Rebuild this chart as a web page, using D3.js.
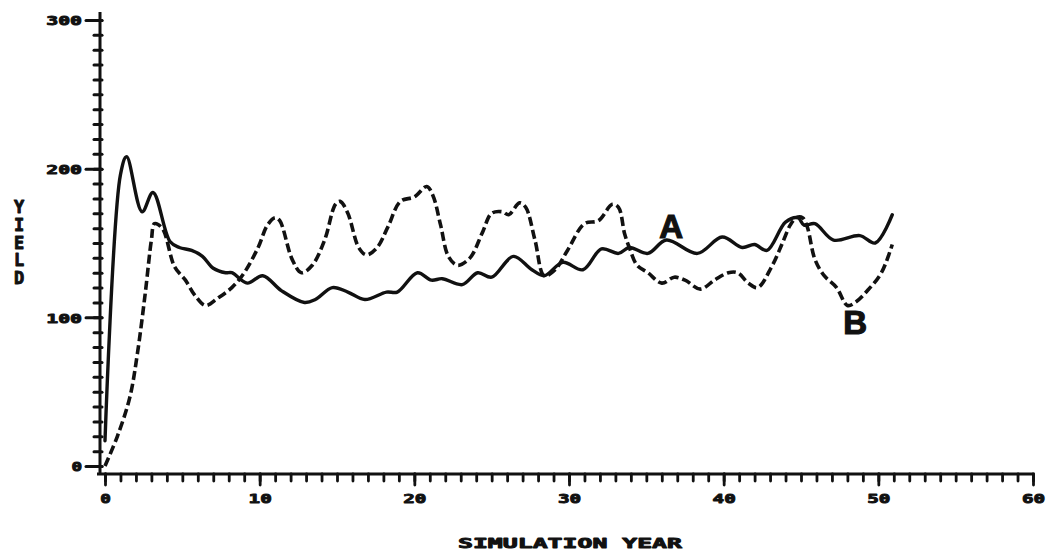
<!DOCTYPE html>
<html>
<head>
<meta charset="utf-8">
<script src="https://cdn.jsdelivr.net/npm/d3@7"></script>
<style>
  body { margin: 0; background: #fff; }
  svg { display: block; }
  .plot-font { font-family: "DejaVu Sans Mono", "Liberation Mono", monospace; font-weight: bold; }
  .stacked { writing-mode: vertical-lr; text-orientation: upright; }
</style>
</head>
<body>
<svg id="chart" width="1048" height="552"></svg>
<script>
// Simulated yield, run A (solid line)
const yearsA = [0.0, 1.0, 1.4, 2.4, 3.1, 4.2, 4.8, 5.6, 6.3, 7.0, 7.8, 8.2, 9.2, 10.2, 11.4, 12.9, 13.6, 14.7, 15.7, 16.8,
                18.2, 18.9, 20.2, 21.1, 21.8, 23.1, 24.1, 25.0, 26.4, 27.6, 28.4, 29.6, 30.9, 32.1, 33.2, 33.9, 35.1, 36.3,
                38.3, 39.9, 41.2, 42.0, 42.8, 44.0, 44.8, 45.2, 45.9, 47.1, 48.8, 49.8, 50.9];
const yieldA = [17, 196, 208, 171, 184, 151, 147, 145, 141, 133, 130, 130, 123, 128, 118, 110, 112, 120, 117, 112,
                117, 117, 130, 125, 126, 122, 130, 127, 141, 132, 128, 137, 132, 146, 143, 147, 143, 152,
                143, 154, 147, 149, 145, 164, 167, 162, 163, 152, 155, 150, 169];

// Simulated yield, run B (dashed line)
const yearsB = [0.0, 0.8, 1.6, 2.1, 2.6, 3.0, 3.2, 3.7, 4.5, 5.2, 5.8, 6.5, 7.3, 8.2, 9.0, 9.9, 10.5, 11.0, 11.3, 12.1,
                12.7, 13.4, 14.2, 14.9, 15.2, 15.7, 16.4, 16.9, 17.6, 18.3, 19.1, 20.0, 20.8, 21.2, 21.7, 22.2, 22.8,
                23.6, 24.4, 25.0, 25.7, 26.1, 26.8, 27.2, 27.8, 28.4, 29.1, 29.9, 31.0, 31.9, 32.8, 33.2, 33.6, 33.9,
                34.4, 35.1, 36.0, 36.8, 37.5, 38.5, 39.4, 40.3, 40.9, 41.6, 42.2, 43.1, 43.8, 44.3, 44.7, 45.1, 45.4,
                45.9, 46.5, 47.3, 48.0, 48.5, 49.3, 50.2, 50.9];
const yieldB = [0, 20, 46, 76, 116, 152, 163, 160, 134, 125, 115, 108, 113, 120, 130, 147, 162, 167, 165, 139,
                130, 135, 152, 176, 178, 170, 147, 142, 147, 161, 178, 181, 188, 182, 162, 141, 135,
                140, 157, 170, 171, 169, 177, 174, 152, 128, 132, 145, 163, 165, 176, 174, 156, 147,
                135, 130, 123, 127, 125, 119, 125, 130, 130, 123, 120, 134, 150, 162, 167, 167, 161,
                139, 128, 120, 108, 110, 118, 130, 149];

const xTicks = [0, 10, 20, 30, 40, 50, 60];
const xTickLabels = ["0", "10", "20", "30", "40", "50", "60"];
const yTicks = [0, 100, 200, 300];
const yTickLabels = ["0", "100", "200", "300"];
const xTitle = "SIMULATION YEAR";
const yTitle = "YIELD";
const seriesLabels = ["A", "B"];

const svg = d3.select("#chart");
const ink = "#111";

const x = d3.scaleLinear().domain([0, 60]).range([105, 1033]);
const y = d3.scaleLinear().domain([0, 300]).range([466, 20]);
const axisY = 474;   // x axis sits a little below the zero line
const axisX = 100;   // y axis sits a little left of year zero

// heavy plotter-style lettering: glyph fill plus a thin outline
function penText(sel) {
  sel.attr("fill", ink).attr("stroke", ink).attr("stroke-width", 0.9).attr("stroke-linejoin", "round");
}

// ---- y axis ----
const gy = svg.append("g").attr("transform", `translate(${axisX},0)`);
gy.append("line").attr("x1", 0).attr("x2", 0).attr("y1", 12).attr("y2", axisY)
  .attr("stroke", ink).attr("stroke-width", 3);

const yMinor = d3.axisLeft(y).tickValues(d3.range(0, 301, 10)).tickFormat("").tickSize(6);
const gyMinor = gy.append("g").call(yMinor);
gyMinor.select(".domain").remove();
gyMinor.selectAll(".tick line").attr("x1", 2).attr("x2", -6)
  .attr("stroke", ink).attr("stroke-width", 3).attr("stroke-linecap", "round");

const yMajor = d3.axisLeft(y).tickValues(yTicks).tickFormat((d, i) => yTickLabels[i]).tickSize(14).tickPadding(5);
const gyMajor = gy.append("g").call(yMajor);
gyMajor.select(".domain").remove();
gyMajor.selectAll(".tick line").attr("x1", 2).attr("x2", -14)
  .attr("stroke", ink).attr("stroke-width", 3).attr("stroke-linecap", "round");
gyMajor.selectAll(".tick text")
  .attr("class", "plot-font").attr("font-size", 13)
  .attr("x", -18).attr("dy", "0.36em")
  .call(penText)
  .each(function () {
    const n = this.textContent.length;
    d3.select(this).attr("textLength", n * 12.6 - 2).attr("lengthAdjust", "spacingAndGlyphs");
  });

// ---- x axis ----
const gx = svg.append("g").attr("transform", `translate(0,${axisY})`);
gx.append("line").attr("x1", 97).attr("x2", x(60)).attr("y1", 0).attr("y2", 0)
  .attr("stroke", ink).attr("stroke-width", 3);

const xMinor = d3.axisBottom(x).tickValues(d3.range(0, 61, 1)).tickFormat("").tickSize(7);
const gxMinor = gx.append("g").call(xMinor);
gxMinor.select(".domain").remove();
gxMinor.selectAll(".tick line").attr("stroke", ink).attr("stroke-width", 2.8).attr("stroke-linecap", "round");

const xMajor = d3.axisBottom(x).tickValues(xTicks).tickFormat((d, i) => xTickLabels[i]).tickSize(11).tickPadding(14);
const gxMajor = gx.append("g").call(xMajor);
gxMajor.select(".domain").remove();
gxMajor.selectAll(".tick line").attr("stroke", ink).attr("stroke-width", 2.8).attr("stroke-linecap", "round");
gxMajor.selectAll(".tick text")
  .attr("class", "plot-font").attr("font-size", 13)
  .attr("y", 24).attr("dy", "0.36em")
  .call(penText)
  .each(function () {
    const n = this.textContent.length;
    d3.select(this).attr("textLength", n * 12.6 - 2).attr("lengthAdjust", "spacingAndGlyphs");
  });

// ---- axis titles ----
svg.append("text").attr("class", "plot-font")
  .attr("x", 570).attr("y", 548).attr("text-anchor", "middle")
  .attr("font-size", 14)
  .attr("textLength", 224).attr("lengthAdjust", "spacingAndGlyphs")
  .call(penText)
  .text(xTitle);

// y title: upright letters stacked top to bottom in one vertical run
svg.append("text")
  .attr("class", "plot-font stacked")
  .attr("x", 19).attr("y", 197)
  .attr("font-size", 17)
  .attr("letter-spacing", -2.2)
  .call(penText)
  .text(yTitle);

// ---- curves ----
const line = d3.line().x(d => x(d[0])).y(d => y(d[1])).curve(d3.curveCatmullRom.alpha(0.5));
const dataA = yearsA.map((yr, i) => [yr, yieldA[i]]);
const dataB = yearsB.map((yr, i) => [yr, yieldB[i]]);

svg.append("path").datum(dataA).attr("d", line)
  .attr("fill", "none").attr("stroke", ink).attr("stroke-width", 3.4)
  .attr("stroke-linejoin", "round").attr("stroke-linecap", "round");

svg.append("path").datum(dataB).attr("d", line)
  .attr("fill", "none").attr("stroke", ink).attr("stroke-width", 3.6)
  .attr("stroke-dasharray", "9,4").attr("stroke-linejoin", "round");

// ---- series labels ----
const labelPos = [[36.6, 153.5], [48.5, 89]];
svg.append("g").selectAll("text").data(seriesLabels).join("text")
  .attr("x", (d, i) => x(labelPos[i][0]))
  .attr("y", (d, i) => y(labelPos[i][1]))
  .attr("text-anchor", "middle")
  .attr("font-family", "'Liberation Sans', Arial, sans-serif")
  .attr("font-weight", "bold").attr("font-size", 33)
  .attr("fill", ink).attr("stroke", ink).attr("stroke-width", 1.2)
  .text(d => d);
</script>
</body>
</html>
